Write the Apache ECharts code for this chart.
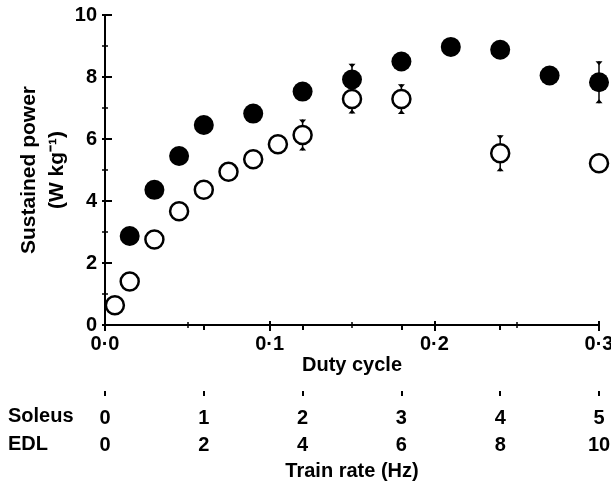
<!DOCTYPE html>
<html><head><meta charset="utf-8">
<script src="https://cdn.jsdelivr.net/npm/echarts@6/dist/echarts.min.js"></script>
<style>html,body{margin:0;padding:0;background:#fff}#c{width:611px;height:486px}</style>
</head><body><div id="c"></div>
<script>
// Tick labels
const dutyTickLabels = ['0·0', '0·1', '0·2', '0·3'];
const soleusRate = [0, 1, 2, 3, 4, 5];
const edlRate = [0, 2, 4, 6, 8, 10];
const powerTicks = [0, 2, 4, 6, 8, 10];

// Filled circles
const filledDuty  = [0.015, 0.03, 0.045, 0.06, 0.09, 0.12, 0.15, 0.18, 0.21, 0.24, 0.27, 0.30];
const filledPower = [2.87, 4.36, 5.45, 6.45, 6.82, 7.53, 7.92, 8.50, 8.97, 8.88, 8.05, 7.83];
const filledErr   = [0, 0, 0, 0, 0, 0, 0.51, 0, 0, 0, 0, 0.68];

// Open circles
const openDuty  = [0.006, 0.015, 0.03, 0.045, 0.06, 0.075, 0.09, 0.105, 0.12, 0.15, 0.18, 0.24, 0.30];
const openPower = [0.64, 1.40, 2.76, 3.67, 4.36, 4.94, 5.35, 5.83, 6.13, 7.29, 7.29, 5.54, 5.22];
const openErr   = [0, 0, 0, 0, 0, 0, 0, 0, 0.50, 0.47, 0.48, 0.58, 0];

const FONT = "'Liberation Sans', Arial, Helvetica, sans-serif";
const txt = {color: '#000', fontFamily: FONT, fontWeight: 'bold', fontSize: 20};

function errItem(params, api) {
  const x = api.value(0), y = api.value(1), e = api.value(2);
  if (!e) return {type: 'group', children: []};
  const t = api.coord([x, y + e]), b = api.coord([x, y - e]);
  const w = 3.5, h = 4;
  return {type: 'group', children: [
    {type: 'line', shape: {x1: t[0], y1: t[1], x2: b[0], y2: b[1]}, style: {stroke: '#000', lineWidth: 1.5}},
    {type: 'polygon', shape: {points: [[t[0] - w, t[1]], [t[0] + w, t[1]], [t[0], t[1] + h]]}, style: {fill: '#000'}},
    {type: 'polygon', shape: {points: [[b[0] - w, b[1]], [b[0] + w, b[1]], [b[0], b[1] - h]]}, style: {fill: '#000'}}
  ]};
}

const dutyBase = {
  type: 'value', min: 0, max: 0.3, interval: 0.1, position: 'bottom', gridIndex: 0,
  splitLine: {show: false}
};
const trainBase = {
  type: 'value', min: 0, max: 5, interval: 1, position: 'bottom', offset: 71, gridIndex: 0,
  splitLine: {show: false}
};
const powerBase = {
  type: 'value', min: 0, max: 10, interval: 2, position: 'left', gridIndex: 0,
  splitLine: {show: false}
};

const option = {
  animation: false,
  backgroundColor: '#fff',
  grid: {left: 105, right: 12, top: 15, bottom: 161, containLabel: false, outerBoundsMode: 'none'},
  xAxis: [
    Object.assign({}, dutyBase, {
      name: 'Duty cycle', nameLocation: 'middle', nameGap: 30, nameMoveOverlap: false, nameTextStyle: txt,
      axisLine: {lineStyle: {color: '#000', width: 2}},
      axisTick: {inside: false, length: 6, lineStyle: {color: '#000', width: 2}},
      minorTick: {show: true, splitNumber: 2, length: 3, lineStyle: {color: '#000', width: 1.5}},
      axisLabel: Object.assign({}, txt, {margin: 9, formatter: v => dutyTickLabels[Math.round(v * 10)]})
    }),
    Object.assign({}, trainBase, {
      name: 'Train rate (Hz)', nameLocation: 'middle', nameGap: 65, nameMoveOverlap: false, nameTextStyle: txt,
      axisLine: {lineStyle: {color: '#000', width: 2}},
      axisTick: {inside: false, length: 5, lineStyle: {color: '#000', width: 2}},
      axisLabel: Object.assign({}, txt, {margin: 9, lineHeight: 27,
        formatter: v => soleusRate[v] + '\n' + edlRate[soleusRate.indexOf(v)]})
    }),
    Object.assign({}, dutyBase, {
      axisLine: {show: false}, axisLabel: {show: false},
      axisTick: {inside: true, length: 4, lineStyle: {color: '#000', width: 2}},
      minorTick: {show: true, splitNumber: 2, length: 3, lineStyle: {color: '#000', width: 1.5}}
    }),
    Object.assign({}, trainBase, {
      axisLine: {show: false}, axisLabel: {show: false},
      axisTick: {inside: true, length: 5, lineStyle: {color: '#000', width: 2}}
    })
  ],
  yAxis: [
    Object.assign({}, powerBase, {
      name: 'Sustained power\n(W kg⁻¹)', nameLocation: 'middle', nameGap: 34, nameRotate: 90,
      nameMoveOverlap: false,
      nameTextStyle: Object.assign({}, txt, {fontSize: 21, lineHeight: 28}),
      axisLine: {lineStyle: {color: '#000', width: 2}},
      axisTick: {inside: false, length: 3, lineStyle: {color: '#000', width: 2}},
      minorTick: {show: true, splitNumber: 2, length: 3, lineStyle: {color: '#000', width: 1.5}},
      axisLabel: Object.assign({}, txt, {margin: 8, formatter: v => String(powerTicks[powerTicks.indexOf(v)])})
    }),
    Object.assign({}, powerBase, {
      axisLine: {show: false}, axisLabel: {show: false},
      axisTick: {inside: true, length: 7, lineStyle: {color: '#000', width: 2}},
      minorTick: {show: true, splitNumber: 2, length: 3, lineStyle: {color: '#000', width: 1.5}}
    })
  ],
  graphic: [
    {type: 'text', left: 8, top: 406, style: {text: 'Soleus', fill: '#000', font: "bold 20px " + FONT}},
    {type: 'text', left: 8, top: 434, style: {text: 'EDL', fill: '#000', font: "bold 20px " + FONT}}
  ],
  series: [
    {type: 'custom', xAxisIndex: 0, yAxisIndex: 0, renderItem: errItem, clip: false, z: 1,
      encode: {x: 0, y: 1},
      data: openDuty.map((x, i) => [x, openPower[i], openErr[i]])},
    {type: 'custom', xAxisIndex: 0, yAxisIndex: 0, renderItem: errItem, clip: false, z: 1,
      encode: {x: 0, y: 1},
      data: filledDuty.map((x, i) => [x, filledPower[i], filledErr[i]])},
    {type: 'scatter', xAxisIndex: 0, yAxisIndex: 0, clip: false, z: 3,
      symbol: 'circle', symbolSize: 20,
      itemStyle: {color: '#000', opacity: 1},
      data: filledDuty.map((x, i) => [x, filledPower[i]])},
    {type: 'scatter', xAxisIndex: 0, yAxisIndex: 0, clip: false, z: 4,
      symbol: 'circle', symbolSize: 18,
      itemStyle: {color: '#fff', borderColor: '#000', borderWidth: 2.5, opacity: 1},
      data: openDuty.map((x, i) => [x, openPower[i]])}
  ]
};

const chart = echarts.init(document.getElementById('c'), null, {renderer: 'canvas'});
chart.setOption(option);
</script>
</body></html>
